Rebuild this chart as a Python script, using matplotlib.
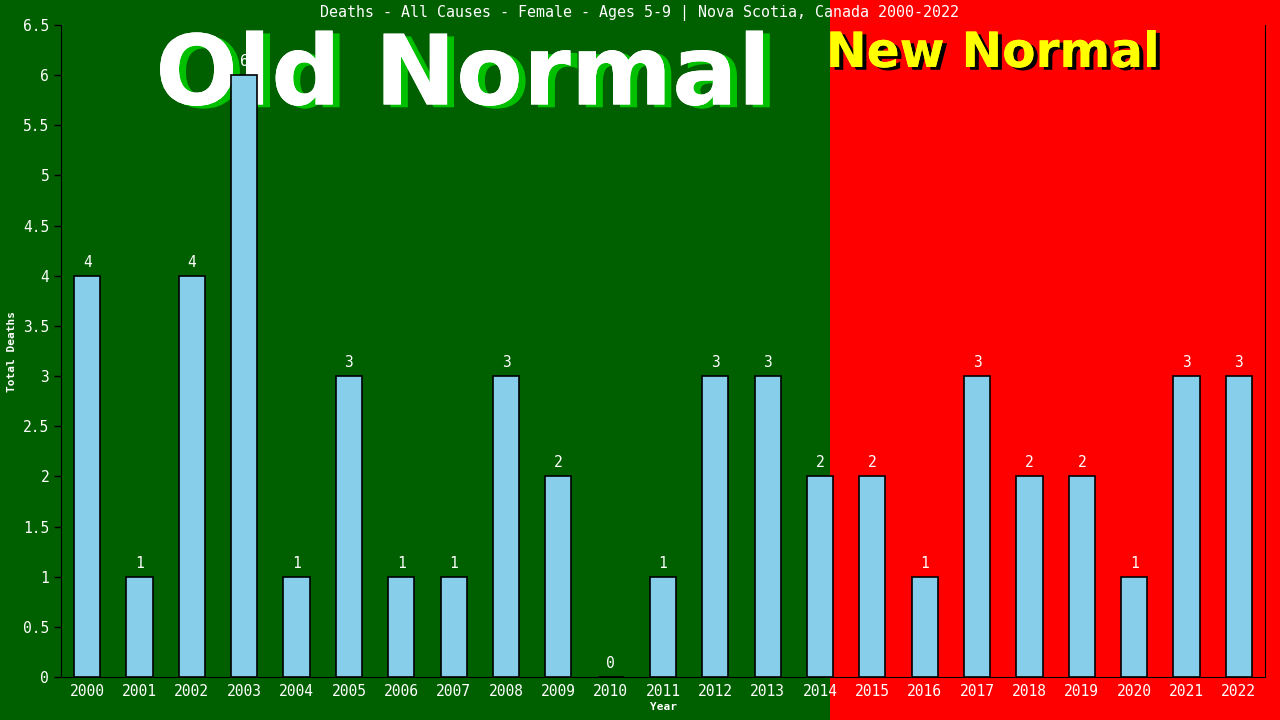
import matplotlib
matplotlib.use("Agg")
import matplotlib.pyplot as plt
import matplotlib.patheffects as pe
from matplotlib.patches import Rectangle

years = [str(y) for y in range(2000, 2023)]
deaths = [4, 1, 4, 6, 1, 3, 1, 1, 3, 2, 0, 1, 3, 3, 2, 2, 1, 3, 2, 2, 1, 3, 3]
yticks = [i * 0.5 for i in range(14)]

mono = "DejaVu Sans Mono"

fig = plt.figure(figsize=(12.8, 7.2), dpi=100)
fig.patch.set_facecolor("#006000")

# background: green / red halves and the two banner texts, behind the bars
bg = fig.add_axes([0, 0, 1, 1], zorder=-1)
bg.set_xlim(0, 1280)
bg.set_ylim(720, 0)
bg.axis("off")
bg.add_patch(Rectangle((0, 0), 830, 720, facecolor="#006000", edgecolor="none"))
bg.add_patch(Rectangle((830, 0), 450, 720, facecolor="#ff0000", edgecolor="none"))
bg.text(463, 78, "Old Normal", ha="center", va="center",
        color="white", fontsize=70, fontweight="bold", family="DejaVu Sans",
        path_effects=[pe.withSimplePatchShadow(offset=(5, -2), shadow_rgbFace="#00c000", alpha=1),
                      pe.Normal()])
bg.text(993, 53, "New Normal", ha="center", va="center",
        color="#ffff00", fontsize=35, fontweight="bold", family="DejaVu Sans",
        path_effects=[pe.withSimplePatchShadow(offset=(3, -2), shadow_rgbFace="black", alpha=1),
                      pe.Normal()])

ax = fig.add_axes([61 / 1280, 43 / 720, 1204 / 1280, 652 / 720], zorder=1)
ax.set_facecolor("none")

x = list(range(len(years)))
ax.bar(x, deaths, width=0.5, color="#87ceeb", edgecolor="black",
       linewidth=1.2, zorder=3)
for xi, v in zip(x, deaths):
    ax.text(xi, v + 0.06, str(v), ha="center", va="bottom", color="white",
            fontsize=10.5, family=mono, zorder=4)

ax.set_xlim(-0.5, len(years) - 0.5)
ax.set_ylim(0, 6.5)
ax.set_xticks(x)
ax.set_xticklabels(years)
ax.set_yticks(yticks)
ax.set_yticklabels(["%g" % t for t in yticks])
ax.tick_params(colors="black", labelcolor="white", length=5, width=1,
               labelsize=10.5)
for lab in ax.get_xticklabels() + ax.get_yticklabels():
    lab.set_family(mono)
ax.tick_params(axis="x", length=0, pad=5)

for s in ["left", "bottom", "right"]:
    ax.spines[s].set_color("black")
ax.spines["top"].set_visible(False)

ax.set_xlabel("Year", color="white", fontsize=8, family=mono,
              fontweight="bold", labelpad=2)
ax.set_ylabel("Total Deaths", color="white", fontsize=8, family=mono,
              fontweight="bold", labelpad=4)

fig.text(0.5, 1 - 13 / 720, "Deaths - All Causes - Female - Ages 5-9 | Nova Scotia, Canada 2000-2022",
         ha="center", va="center", color="white", fontsize=10.8, family=mono)

fig.savefig("out.png", dpi=100, facecolor=fig.get_facecolor())
